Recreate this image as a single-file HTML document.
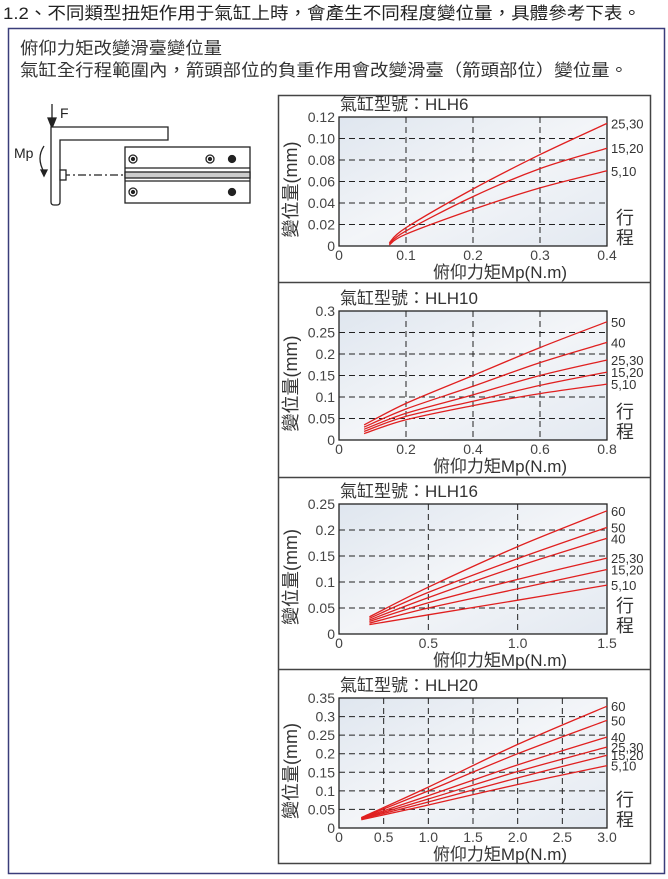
<!DOCTYPE html>
<html><head><meta charset="utf-8">
<style>
html,body{margin:0;padding:0;background:#fff;}
svg{display:block;font-family:"Liberation Sans","Noto Sans CJK TC",sans-serif;}
</style></head>
<body>
<svg id="page" width="668" height="879" viewBox="0 0 668 879" xmlns="http://www.w3.org/2000/svg">
<defs>
<linearGradient id="bg" x1="0" y1="0" x2="1" y2="1">
<stop offset="0" stop-color="#dfe6ef"/><stop offset="0.5" stop-color="#f3f5f8"/><stop offset="1" stop-color="#e3e9f1"/>
</linearGradient>
</defs>
<text x="3" y="19" font-size="17" fill="#222" textLength="638" lengthAdjust="spacingAndGlyphs">1.2、不同類型扭矩作用于氣缸上時，會產生不同程度變位量，具體參考下表。</text>
<rect x="8.5" y="28.5" width="656" height="845" fill="none" stroke="#3a3d7a" stroke-width="1.5"/>
<text x="20" y="54" font-size="17" fill="#333" textLength="202" lengthAdjust="spacingAndGlyphs">俯仰力矩改變滑臺變位量</text>
<text x="20" y="76" font-size="17" fill="#333" textLength="608" lengthAdjust="spacingAndGlyphs">氣缸全行程範圍內，箭頭部位的負重作用會改變滑臺（箭頭部位）變位量。</text>

<g stroke="#222" fill="none" stroke-width="1.3">
<line x1="52" y1="104" x2="52" y2="120"/>
<polygon points="48,118 56,118 52,128" fill="#222"/>
<text x="60" y="118" font-size="14" fill="#222" stroke="none">F</text>
<text x="14" y="158" font-size="14" fill="#222" stroke="none">Mp</text>
<path d="M44,146 Q36,158 44,172"/>
<polygon points="41,170 47,170 44,176" fill="#222"/>
<path d="M51,127 L168,127 L168,140 L60,140 L60,202 Q60,205 57,205 L54,205 Q51,205 51,202 Z" fill="#fff"/>
<rect x="125" y="147" width="125" height="56" fill="#fff"/>
<line x1="125" y1="168" x2="250" y2="168"/>
<line x1="125" y1="181" x2="250" y2="181"/>
<rect x="125" y="172" width="125" height="6" fill="#ccc"/>
<line x1="62" y1="175" x2="125" y2="175" stroke-dasharray="8,3,2,3"/>
<rect x="60" y="170" width="6" height="10" fill="#fff"/>
<circle cx="133" cy="159" r="4"/><circle cx="133" cy="159" r="1.5" fill="#222"/>
<circle cx="210" cy="159" r="4"/><circle cx="210" cy="159" r="1.5" fill="#222"/>
<circle cx="232" cy="159" r="3.5" fill="#222"/>
<circle cx="133" cy="192" r="4"/><circle cx="133" cy="192" r="1.5" fill="#222"/>
<circle cx="232" cy="192" r="3.5" fill="#222"/>
</g>

<g stroke="#444" stroke-width="1.5" fill="none">
<rect x="278.5" y="95.5" width="372" height="768"/>
<line x1="278" y1="282.5" x2="650" y2="282.5"/>
<line x1="278" y1="477.5" x2="650" y2="477.5"/>
<line x1="278" y1="669.5" x2="650" y2="669.5"/>
</g>
<g id="charts"></g>
</svg>
<script>
// HLH6
const c1Title = "氣缸型號：HLH6";
const c1XTicks = ["0","0.1","0.2","0.3","0.4"];
const c1YTicks = ["0","0.02","0.04","0.06","0.08","0.10","0.12"];
const c1Names = ["25,30","15,20","5,10"];
const c1X = [0.075,0.1,0.2,0.3,0.4];
const c1S1 = [0.003,0.017,0.053,0.085,0.114];
const c1S2 = [0.002,0.014,0.046,0.072,0.091];
const c1S3 = [0.001,0.011,0.034,0.054,0.070];
// HLH10
const c2Title = "氣缸型號：HLH10";
const c2XTicks = ["0","0.2","0.4","0.6","0.8"];
const c2YTicks = ["0","0.05","0.1","0.15","0.2","0.25","0.3"];
const c2Names = ["50","40","25,30","15,20","5,10"];
const c2X = [0.075,0.2,0.4,0.6,0.8];
const c2S1 = [0.035,0.085,0.150,0.215,0.275];
const c2S2 = [0.030,0.072,0.125,0.180,0.227];
const c2S3 = [0.025,0.062,0.105,0.150,0.186];
const c2S4 = [0.020,0.055,0.090,0.127,0.158];
const c2S5 = [0.015,0.047,0.080,0.108,0.130];
// HLH16
const c3Title = "氣缸型號：HLH16";
const c3XTicks = ["0","0.5","1.0","1.5"];
const c3YTicks = ["0","0.05","0.1","0.15","0.2","0.25"];
const c3Names = ["60","50","40","25,30","15,20","5,10"];
const c3X = [0.17,0.5,1.0,1.5];
const c3S1 = [0.033,0.090,0.168,0.237];
const c3S2 = [0.030,0.080,0.145,0.205];
const c3S3 = [0.027,0.070,0.130,0.184];
const c3S4 = [0.024,0.060,0.105,0.146];
const c3S5 = [0.021,0.050,0.087,0.124];
const c3S6 = [0.018,0.037,0.065,0.094];
// HLH20
const c4Title = "氣缸型號：HLH20";
const c4XTicks = ["0","0.5","1.0","1.5","2.0","2.5","3.0"];
const c4YTicks = ["0","0.05","0.1","0.15","0.2","0.25","0.3","0.35"];
const c4Names = ["60","50","40","25,30","15,20","5,10"];
const c4X = [0.25,1.0,2.0,3.0];
const c4S1 = [0.028,0.110,0.225,0.328];
const c4S2 = [0.027,0.100,0.200,0.290];
const c4S3 = [0.026,0.087,0.170,0.245];
const c4S4 = [0.025,0.078,0.152,0.218];
const c4S5 = [0.024,0.070,0.135,0.196];
const c4S6 = [0.022,0.062,0.117,0.168];

const NS = "http://www.w3.org/2000/svg";
const root = document.getElementById('charts');
function mk(tag, attrs, parent){
  const e = document.createElementNS(NS, tag);
  for (const k in attrs) e.setAttribute(k, attrs[k]);
  parent.appendChild(e);
  return e;
}
function smoothPath(pts){
  let d = 'M' + pts[0][0].toFixed(1) + ',' + pts[0][1].toFixed(1);
  for (let i = 0; i < pts.length - 1; i++) {
    const p0 = pts[i-1] || pts[i], p1 = pts[i], p2 = pts[i+1], p3 = pts[i+2] || pts[i+1];
    const c1x = p1[0] + (p2[0]-p0[0])/6, c1y = p1[1] + (p2[1]-p0[1])/6;
    const c2x = p2[0] - (p3[0]-p1[0])/6, c2y = p2[1] - (p3[1]-p1[1])/6;
    d += ' C' + c1x.toFixed(1) + ',' + c1y.toFixed(1) + ' ' + c2x.toFixed(1) + ',' + c2y.toFixed(1) + ' ' + p2[0].toFixed(1) + ',' + p2[1].toFixed(1);
  }
  return d;
}
function drawChart(id, title, xTicks, yTicks, names, xs, series, box){
  const g = mk('g', {}, root);
  
  
  const xMax = parseFloat(xTicks[xTicks.length-1]);
  const yMax = parseFloat(yTicks[yTicks.length-1]);
  const sx = v => box.x0 + (v / xMax) * (box.x1 - box.x0);
  const sy = v => box.y1 - (v / yMax) * (box.y1 - box.y0);
  const t = mk('text', {x: 340, y: box.y0 - 7, 'font-size': 17, fill: '#333'}, g);
  t.textContent = title;
  
  
  const bg = mk('rect', {x: box.x0, y: box.y0, width: box.x1 - box.x0, height: box.y1 - box.y0, fill: 'url(#bg)'}, g);
  
  
  xTicks.forEach((lab, i) => {
    const x = sx(parseFloat(lab));
    if (i > 0 && i < xTicks.length - 1) {
      const l = mk('line', {x1: x, y1: box.y0, x2: x, y2: box.y1, stroke: '#222', 'stroke-width': 1, 'stroke-dasharray': '6,4'}, g);
      
      
    }
    const tx = mk('text', {x: x, y: box.y1 + 14, 'font-size': 14, fill: '#444', 'text-anchor': 'middle'}, g);
    tx.textContent = lab;
    
    
  });
  yTicks.forEach((lab, i) => {
    const y = sy(parseFloat(lab));
    if (i > 0 && i < yTicks.length - 1) {
      const l = mk('line', {x1: box.x0, y1: y, x2: box.x1, y2: y, stroke: '#222', 'stroke-width': 1, 'stroke-dasharray': '6,4'}, g);
      
      
    }
    const ty = mk('text', {x: box.x0 - 4, y: y + 5, 'font-size': 14, fill: '#444', 'text-anchor': 'end'}, g);
    ty.textContent = lab;
    
    
  });
  const fr = mk('rect', {x: box.x0, y: box.y0, width: box.x1 - box.x0, height: box.y1 - box.y0, fill: 'none', stroke: '#222', 'stroke-width': 1.3}, g);
  
  
  series.forEach((vals, si) => {
    const pts = vals.map((v, i) => [sx(xs[i]), sy(v)]);
    const p = mk('path', {d: smoothPath(pts), fill: 'none', stroke: '#e02020', 'stroke-width': 1.3}, g);
    
    
    const lb = mk('text', {x: box.x1 + 4, y: sy(vals[vals.length-1]) + 5, 'font-size': 13, fill: '#333'}, g);
    lb.textContent = names[si];
    
    
  });
  const xt = mk('text', {x: 500, y: box.y1 + 32, 'font-size': 17, fill: '#333', 'text-anchor': 'middle'}, g);
  xt.textContent = '俯仰力矩Mp(N.m)';
  
  
  const cy = (box.y0 + box.y1) / 2 + 8;
  const yt = mk('text', {x: 297, y: cy, 'font-size': 18, fill: '#333', 'text-anchor': 'middle', transform: 'rotate(-90 297 ' + cy + ')'}, g);
  yt.textContent = '變位量(mm)';
  
  
  const s1 = mk('text', {x: 616, y: box.y1 - 22, 'font-size': 18, fill: '#333'}, g);
  s1.textContent = '行';
  
  
  const s2 = mk('text', {x: 616, y: box.y1 - 2, 'font-size': 18, fill: '#333'}, g);
  s2.textContent = '程';
  
  
}
drawChart('chart-hlh6', c1Title, c1XTicks, c1YTicks, c1Names, c1X, [c1S1,c1S2,c1S3], {x0:339,x1:607,y0:117,y1:246});
drawChart('chart-hlh10', c2Title, c2XTicks, c2YTicks, c2Names, c2X, [c2S1,c2S2,c2S3,c2S4,c2S5], {x0:339,x1:607,y0:311,y1:440});
drawChart('chart-hlh16', c3Title, c3XTicks, c3YTicks, c3Names, c3X, [c3S1,c3S2,c3S3,c3S4,c3S5,c3S6], {x0:339,x1:607,y0:504,y1:634});
drawChart('chart-hlh20', c4Title, c4XTicks, c4YTicks, c4Names, c4X, [c4S1,c4S2,c4S3,c4S4,c4S5,c4S6], {x0:339,x1:607,y0:698,y1:828});
</script>
</body></html>
